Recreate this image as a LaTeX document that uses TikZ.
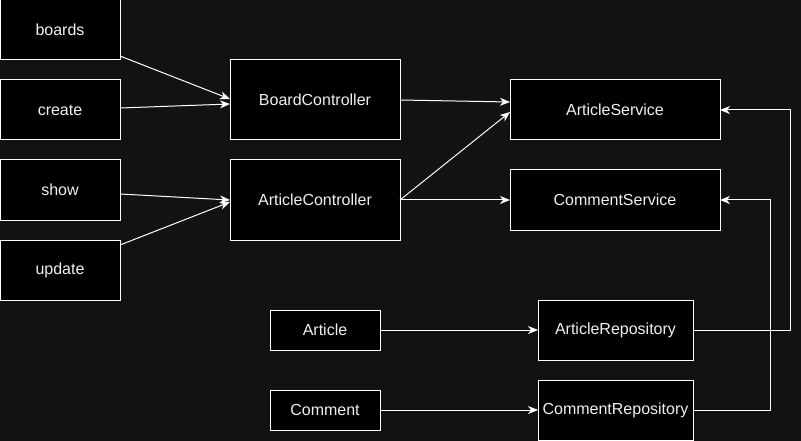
\documentclass[tikz,border=0pt]{standalone}
\usepackage{fontspec}
\setmainfont{Liberation Sans}
\usetikzlibrary{arrows.meta}
\definecolor{bgdark}{HTML}{121212}
\definecolor{txtlight}{HTML}{F0F0F0}

\begin{document}
\begin{tikzpicture}[x=1pt,y=-1pt,
    box/.style={draw=white, fill=black, line width=1pt, inner sep=0pt, outer sep=0pt,
        text=txtlight, font=\fontsize{16}{19}\selectfont},
    link/.style={draw=white, line width=1pt, -{Stealth[length=10pt,width=8pt,inset=3pt]}}]
                \fill[bgdark] (0,0) rectangle (801,441);
                \useasboundingbox (0,0) rectangle (801,441);
                % request handlers
                \node[box, minimum width=120pt, minimum height=60pt] (boards) at (60,30) {boards};
                \node[box, minimum width=120pt, minimum height=60pt] (create) at (60,110) {create};
                \node[box, minimum width=120pt, minimum height=60pt] (show) at (60,190) {show};
                \node[box, minimum width=120pt, minimum height=60pt] (update) at (60,270) {update};
                % controllers
                \node[box, minimum width=170pt, minimum height=80pt] (boardCtrl) at (315,100) {BoardController};
                \node[box, minimum width=170pt, minimum height=80pt] (articleCtrl) at (315,200) {ArticleController};
                % services
                \node[box, minimum width=210pt, minimum height=60pt] (articleSvc) at (615,110) {ArticleService};
                \node[box, minimum width=210pt, minimum height=60pt] (commentSvc) at (615,200) {CommentService};
                % entities and repositories
                \node[box, minimum width=110pt, minimum height=40pt] (article) at (325,330) {Article};
                \node[box, minimum width=110pt, minimum height=40pt] (comment) at (325,410) {Comment};
                \node[box, minimum width=155pt, minimum height=60pt] (articleRepo) at (615.5,330) {ArticleRepository};
                \node[box, minimum width=155pt, minimum height=60pt] (commentRepo) at (615.5,410) {CommentRepository};

                \draw[link] ([yshift=4pt]boards.south east) -- ([yshift=1pt]boardCtrl.west);
                \draw[link] ([yshift=2pt]create.east) -- ([yshift=-4pt]boardCtrl.west);
                \draw[link] ([yshift=-4pt]show.east) -- (articleCtrl.west);
                \draw[link] ([yshift=-5pt]update.north east) -- ([yshift=-2pt]articleCtrl.west);
                \draw[link] (boardCtrl.east) -- ([yshift=8pt]articleSvc.west);
                \draw[link] (articleCtrl.east) -- ([yshift=-2pt]articleSvc.west);
                \draw[link] (articleCtrl.east) -- (commentSvc.west);
                \draw[link] (article.east) -- (articleRepo.west);
                \draw[link] (comment.east) -- (commentRepo.west);
                \draw[link] (articleRepo.east) -- ++(97,0) |- (articleSvc.east);
                \draw[link] (commentRepo.east) -- ++(77,0) |- (commentSvc.east);
            \end{tikzpicture}
\end{document}
